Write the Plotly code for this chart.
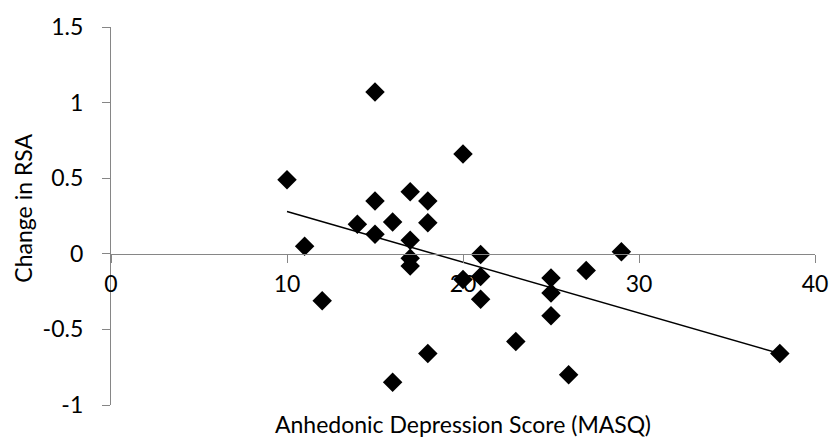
import plotly.graph_objects as go

# Data
masq_score = [10, 11, 12, 14, 15, 15, 15, 16, 16, 17, 17, 17, 17, 18, 18, 18,
              20, 20, 21, 21, 21, 23, 25, 25, 25, 26, 27, 29, 38]
rsa_change = [0.49, 0.05, -0.31, 0.195, 1.07, 0.35, 0.13, 0.21, -0.85, 0.41,
              0.09, -0.03, -0.08, 0.35, 0.205, -0.66, 0.66, -0.17, -0.005,
              -0.15, -0.30, -0.58, -0.16, -0.26, -0.41, -0.80, -0.11, 0.013, -0.66]

trend_x = [10, 38]
trend_y = [0.28, -0.66]

x_ticks = [0, 10, 20, 30, 40]
x_tick_labels = ["0", "10", "20", "30", "40"]
y_ticks = [-1, -0.5, 0, 0.5, 1, 1.5]
y_tick_labels = ["-1", "-0.5", "0", "0.5", "1", "1.5"]

FONT = "Lato, 'Open Sans', sans-serif"
FS = 23
AXIS_COLOR = "#868686"

fig = go.Figure()
fig.add_trace(go.Scatter(
    x=masq_score, y=rsa_change, mode="markers",
    marker=dict(symbol="diamond", size=15, color="black", line=dict(width=0)),
    showlegend=False, hoverinfo="skip"))
fig.add_trace(go.Scatter(
    x=trend_x, y=trend_y, mode="lines",
    line=dict(color="black", width=1.5),
    showlegend=False, hoverinfo="skip"))

PLOT_H = 385

fig.update_layout(
    width=840, height=441,
    margin=dict(l=111, r=15, t=20, b=36),
    paper_bgcolor="white", plot_bgcolor="white",
    font=dict(family=FONT, size=FS, color="black"),
    xaxis=dict(
        range=[0, 40], autorange=False,
        tickmode="array", tickvals=x_ticks, ticktext=x_tick_labels,
        showgrid=False, zeroline=False,
        showline=True, linecolor=AXIS_COLOR, linewidth=1.3,
        ticks="outside", ticklen=8, tickcolor=AXIS_COLOR, tickwidth=1.3,
        anchor="free", position=0.4,
        ticklabelstandoff=1,
        tickfont=dict(family=FONT, size=FS, color="black"),
    ),
    yaxis=dict(
        range=[-1, 1.5], autorange=False,
        tickmode="array", tickvals=y_ticks, ticktext=y_tick_labels,
        showgrid=False, zeroline=False,
        showline=True, linecolor=AXIS_COLOR, linewidth=1.3,
        ticks="outside", ticklen=8, tickcolor=AXIS_COLOR, tickwidth=1.3,
        ticklabelstandoff=14,
        tickfont=dict(family=FONT, size=FS, color="black"),
    ),
    annotations=[
        dict(text="Anhedonic Depression Score (MASQ)", xref="paper", yref="paper",
             x=0.5, y=-(424 - 405) / PLOT_H, xanchor="center",
             yanchor="middle", showarrow=False,
             font=dict(family=FONT, size=FS, color="black")),
        dict(text="Change in RSA", xref="paper", yref="paper",
             x=0, xshift=23 - 111, y=(405 - 205) / PLOT_H, xanchor="center",
             yanchor="middle", textangle=-90, showarrow=False,
             font=dict(family=FONT, size=FS, color="black")),
    ],
)

fig.write_html("out.html")
